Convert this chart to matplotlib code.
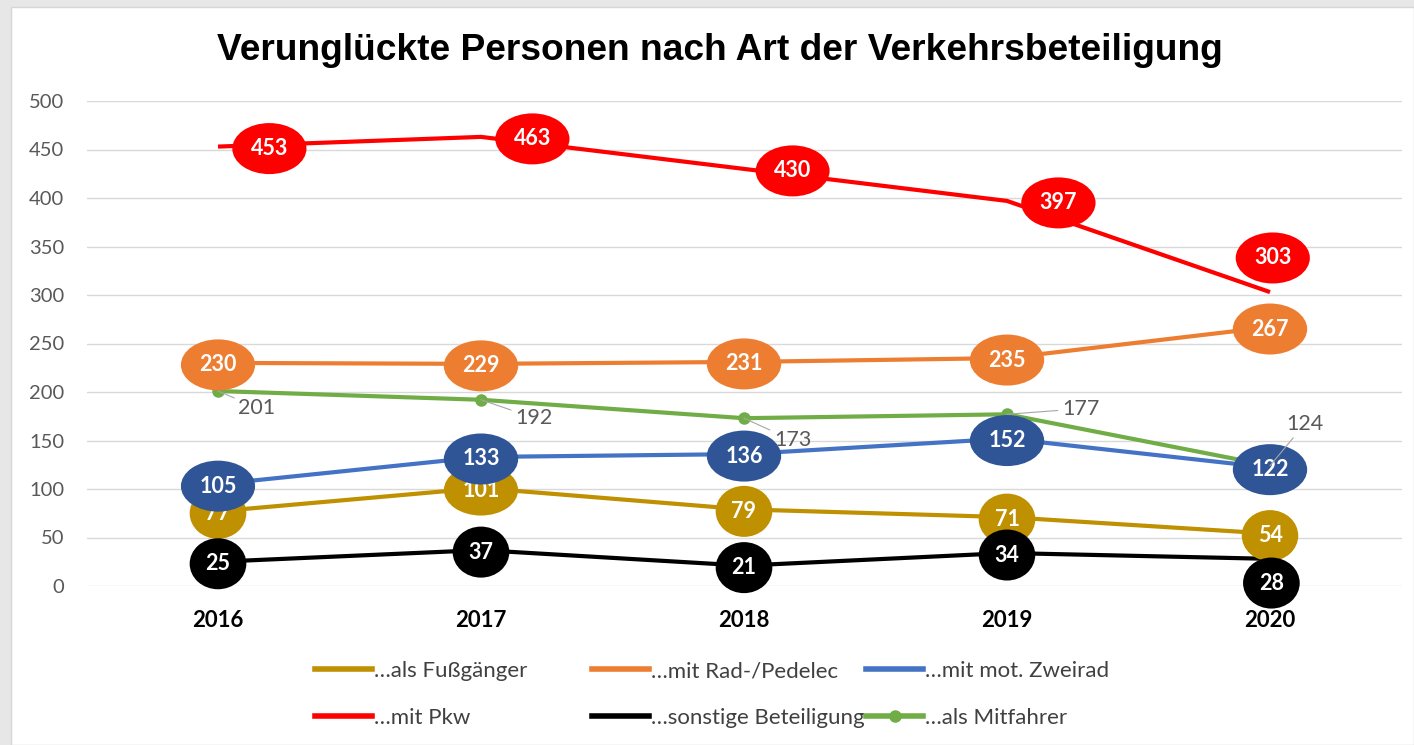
import numpy as np
from matplotlib import pyplot as plt
from matplotlib.patches import Rectangle
from matplotlib.lines import Line2D

years = ["2016", "2017", "2018", "2019", "2020"]

fussgaenger = [77, 101, 79, 71, 54]
rad_pedelec = [230, 229, 231, 235, 267]
mot_zweirad = [105, 133, 136, 152, 122]
pkw = [453, 463, 430, 397, 303]
sonstige = [25, 37, 21, 34, 28]
mitfahrer = [201, 192, 173, 177, 124]

series_names = ["…als Fußgänger", "…mit Rad-/Pedelec", "…mit mot. Zweirad",
                "…mit Pkw", "…sonstige Beteiligung", "…als Mitfahrer"]

# label offsets in points (everything else sits on its point)
RED_OFFSETS = [(37, 0), (37, 0), (35, 0), (37, 0), (2, 26)]
BLACK_OFFSETS = [(0, 0), (0, 0), (0, 0), (0, 0), (1, -16)]
GREEN_OFFSETS = [(28, -12), (38, -13), (35, -16), (53, 4), (25, 30)]

LABEL_FONT = "Lato"
plt.rcParams["font.family"] = ["Lato", "DejaVu Sans"]

fig = plt.figure(figsize=(14.14, 7.45), dpi=100)
fig.patch.set_facecolor("#e7e7e7")
fig.patches.append(Rectangle((11 / 1414, 0), 1 - 11 / 1414, (745 - 7) / 745,
                             transform=fig.transFigure, facecolor="white",
                             edgecolor="#d6d6d6", lw=1, zorder=-5))

ax = fig.add_axes([86.5 / 1414, (745 - 586) / 745, 1315 / 1414, 485 / 745])
ax.set_facecolor("none")
x = np.arange(len(years))


def ellipse_labels(values, color, z, offsets=None):
    for i, v in enumerate(values):
        off = offsets[i] if offsets else (0, 0)
        ax.annotate(str(v), xy=(x[i], v), xytext=off, textcoords="offset points",
                    ha="center", va="center_baseline", color="white", fontsize=15.5,
                    fontweight="bold", family=LABEL_FONT, zorder=z,
                    bbox=dict(boxstyle="ellipse,pad=0.35", fc=color, ec="none"))


ax.plot(x, fussgaenger, color="#bf9000", lw=3, zorder=2, solid_capstyle="butt")
ax.plot(x, rad_pedelec, color="#ed7d31", lw=3, zorder=2, solid_capstyle="butt")
ax.plot(x, mot_zweirad, color="#4472c4", lw=3, zorder=2, solid_capstyle="butt")
ax.plot(x, pkw, color="#ff0000", lw=3, zorder=2, solid_capstyle="butt")
ax.plot(x, sonstige, color="#000000", lw=3, zorder=2, solid_capstyle="butt")
ax.plot(x, mitfahrer, color="#70ad47", lw=3, zorder=2, marker="o", ms=8,
        solid_capstyle="butt")

ellipse_labels(fussgaenger, "#bf9000", 5)
ellipse_labels(rad_pedelec, "#ed7d31", 6)
ellipse_labels(mot_zweirad, "#2f5597", 7)
ellipse_labels(pkw, "#ff0000", 8, RED_OFFSETS)
ellipse_labels(sonstige, "#000000", 9, BLACK_OFFSETS)

for i, v in enumerate(mitfahrer):
    ax.annotate(str(v), xy=(x[i], v), xytext=GREEN_OFFSETS[i], textcoords="offset points",
                ha="center", va="center", color="#595959", fontsize=15.5,
                family=LABEL_FONT, zorder=10,
                arrowprops=dict(arrowstyle="-", color="#a6a6a6", lw=0.8,
                                shrinkA=1, shrinkB=0))

ax.set_xlim(-0.5, len(years) - 0.5)
ax.set_ylim(0, 500)
ax.set_yticks(np.arange(0, 501, 50))
ax.set_xticks(x)
ax.set_xticklabels(years, fontweight="bold", fontsize=16)
ax.tick_params(axis="x", length=0, pad=17, colors="black")
ax.tick_params(axis="y", length=0, pad=16, labelsize=14.5, labelcolor="#595959")
ax.grid(axis="y", color="#d9d9d9", lw=1)
ax.set_axisbelow(True)
for s in ax.spines.values():
    s.set_visible(False)

fig.text(720 / 1414, 1 - 50 / 745, "Verunglückte Personen nach Art der Verkehrsbeteiligung",
         ha="center", va="center", fontsize=26.7, fontweight="bold",
         family="Liberation Sans")

# legend: three columns placed by hand (Excel-style fixed widths)
handles = [
    Line2D([], [], color="#bf9000", lw=4),
    Line2D([], [], color="#ed7d31", lw=4),
    Line2D([], [], color="#4472c4", lw=4),
    Line2D([], [], color="#ff0000", lw=4),
    Line2D([], [], color="#000000", lw=4),
    Line2D([], [], color="#70ad47", lw=4, marker="o", ms=8),
]
col_x = [315, 592, 866]
for c in range(3):
    leg = fig.legend([handles[c], handles[c + 3]], [series_names[c], series_names[c + 3]],
                     loc="upper left", bbox_to_anchor=(col_x[c] / 1414, 1 - 661 / 745),
                     frameon=False, fontsize=16, handlelength=2.57, handletextpad=0.1,
                     labelspacing=1.2, borderaxespad=0, borderpad=0)
    for t in leg.get_texts():
        t.set_color("#404040")

fig.savefig("out.png", dpi=100, facecolor=fig.get_facecolor())
